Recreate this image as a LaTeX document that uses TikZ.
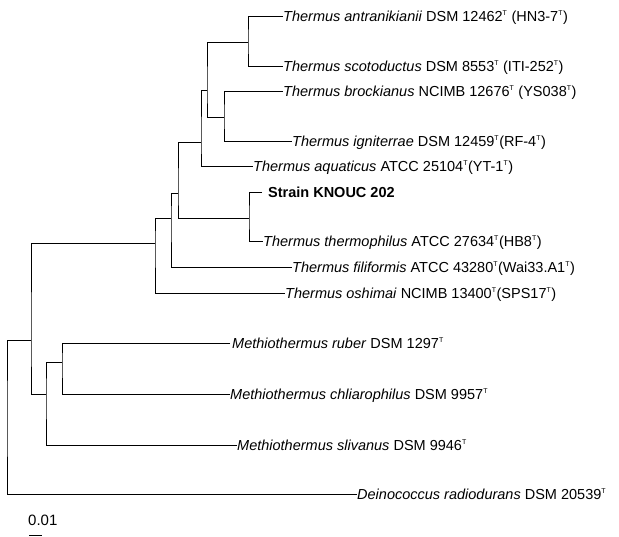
\documentclass[tikz,border=0pt]{standalone}
\usepackage{fontspec}
\setmainfont{Liberation Sans}
\newfontfamily\labfont{Liberation Sans}
\newfontfamily\scalefont{Liberation Sans}
\newcommand{\tsup}{\textsuperscript{\scriptsize T}}
\begin{document}
\begin{tikzpicture}[x=1pt,y=-1pt,
  branch/.style={line width=0.8pt, black},
  leaf/.style={anchor=west, inner xsep=0pt, inner ysep=0pt, text height=10.4pt, text depth=0pt,
    font=\labfont\fontsize{14.5}{16}\selectfont},
  strainlab/.style={leaf, inner xsep=6pt, font=\labfont\bfseries\fontsize{14.5}{16}\selectfont},
  scalelab/.style={anchor=west, inner sep=0pt, font=\scalefont\fontsize{15}{17}\selectfont}
]
\useasboundingbox (0,0) rectangle (619,536);
% internal nodes
\coordinate (A) at (248,42);
\coordinate (B) at (224,117);
\coordinate (C) at (207,90);
\coordinate (D) at (201,142);
\coordinate (E) at (249,218);
\coordinate (F) at (178,193);
\coordinate (G) at (171,218);
\coordinate (H) at (155,243);
\coordinate (I) at (62,362);
\coordinate (J) at (46,394);
\coordinate (K) at (31,340);
\coordinate (R) at (7,420);
% leaves
\node[leaf] (l1) at (283,16) {\textit{Thermus antranikianii} DSM 12462\tsup\ (HN3-7\tsup)};
\node[leaf] (l2) at (283,66) {\textit{Thermus scotoductus} DSM 8553\tsup\ (ITI-252\tsup)};
\node[leaf] (l3) at (283,91) {\textit{Thermus brockianus} NCIMB 12676\tsup\ (YS038\tsup)};
\node[leaf] (l4) at (292,141) {\textit{Thermus igniterrae} DSM 12459\tsup(RF-4\tsup)};
\node[leaf] (l5) at (253,166) {\textit{Thermus aquaticus} ATCC 25104\tsup(YT-1\tsup)};
\node[strainlab] (l6) at (262,192) {Strain KNOUC 202};
\node[leaf] (l7) at (263,241) {\textit{Thermus thermophilus} ATCC 27634\tsup(HB8\tsup)};
\node[leaf] (l8) at (292,267) {\textit{Thermus filiformis} ATCC 43280\tsup(Wai33.A1\tsup)};
\node[leaf] (l9) at (285,293) {\textit{Thermus oshimai} NCIMB 13400\tsup(SPS17\tsup)};
\node[leaf, inner xsep=2pt] (l10) at (230,343) {\textit{Methiothermus ruber} DSM 1297\tsup};
\node[leaf] (l11) at (230,394) {\textit{Methiothermus chliarophilus} DSM 9957\tsup};
\node[leaf] (l12) at (237,445) {\textit{Methiothermus slivanus} DSM 9946\tsup};
\node[leaf] (l13) at (357,494) {\textit{Deinococcus radiodurans} DSM 20539\tsup};
% branches
\draw[branch] (l1.west) -| (A) |- (l2.west);
\draw[branch] (l3.west) -| (B) |- (l4.west);
\draw[branch] (A) -| (C) |- (B);
\draw[branch] (C) -| (D) |- (l5.west);
\draw[branch] (l6.west) -| (E) |- (l7.west);
\draw[branch] (D) -| (F) |- (E);
\draw[branch] (F) -| (G) |- (l8.west);
\draw[branch] (G) -| (H) |- (l9.west);
\draw[branch] (l10.west) -| (I) |- (l11.west);
\draw[branch] (I) -| (J) |- (l12.west);
\draw[branch] (H) -| (K) |- (J);
\draw[branch] (K) -| (R) |- (l13.west);
% scale
\node[scalelab] (sc) at (28,520) {0.01};
\coordinate (sb1) at (29,535.5);
\coordinate (sb2) at (42,535.5);
\draw[branch] (sb1) -- (sb2);
\end{tikzpicture}
\end{document}
